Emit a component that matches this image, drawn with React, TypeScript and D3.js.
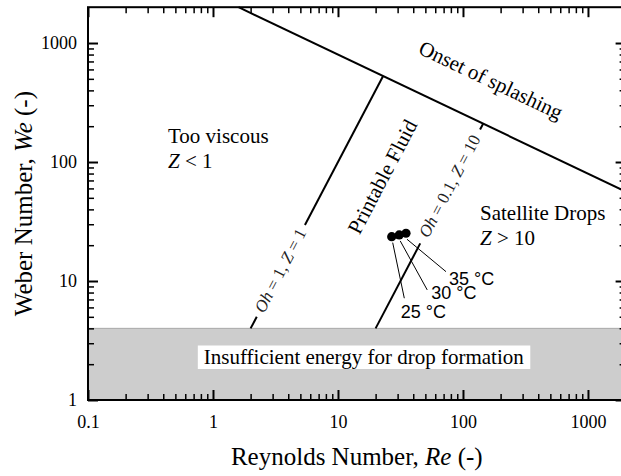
import { useEffect, useRef } from "react";
import * as d3 from "d3";

// axis ticks
const reTicks = [0.1, 1, 10, 100, 1000];
const weTicks = [1, 10, 100, 1000];
const decades = [0.1, 1, 10, 100, 1000];
const minorSteps = [2, 3, 4, 5, 6, 7, 8, 9];

// boundary lines, split where the labels sit
const splashRe = [1.6, 2000];
const splashWe = [2000, 56.5];
const oh1Re = [2, 2.24, 5.44, 22.97];
const oh1We = [4, 5.0, 29.6, 527.6];
const oh01Re = [20, 45.5, 137, 145];
const oh01We = [4, 20.7, 187.7, 210];
const bandWe = [1, 4];

// measured inks
const tempLabels = ["25 °C", "30 °C", "35 °C"];
const inkRe = [26.9, 30.9, 35.0];
const inkWe = [23.6, 24.4, 25.2];

const W = 621;
const H = 476;
const serif = "'Liberation Serif', 'Times New Roman', serif";
const sans = "'Liberation Sans', Arial, sans-serif";

type Part = [string, boolean];

const richText = (g: any, parts: Part[]) => {
  parts.forEach(([s, it]) => {
    g.append("tspan").attr("font-style", it ? "italic" : "normal").text(s);
  });
  return g;
};

const App = () => {
  const ref = useRef<SVGSVGElement>(null);

  useEffect(() => {
    const svg = d3.select(ref.current);
    svg.selectAll("*").remove();

    const x = d3.scaleLog().domain([0.1, 2000]).range([88, 625.6]);
    const y = d3.scaleLog().domain([1, 2000]).range([400, 7.2]);
    const [x0, x1] = x.range();
    const [y0, y1] = y.range();

    // grey band
    svg
      .append("rect")
      .attr("x", x0)
      .attr("width", x1 - x0)
      .attr("y", y(bandWe[1]))
      .attr("height", y(bandWe[0]) - y(bandWe[1]))
      .attr("fill", "#cdcdcd");
    svg
      .append("line")
      .attr("x1", x0)
      .attr("x2", x1)
      .attr("y1", y(bandWe[1]))
      .attr("y2", y(bandWe[1]))
      .attr("stroke", "#a8a8a8")
      .attr("stroke-width", 1);

    const bandText = svg
      .append("text")
      .attr("x", (x0 + x1) / 2 + 7)
      .attr("y", 364)
      .attr("text-anchor", "middle")
      .attr("font-family", serif)
      .attr("font-size", 21)
      .text("Insufficient energy for drop formation");
    const bb = (bandText.node() as SVGTextElement).getBBox();
    svg
      .insert("rect", "text")
      .attr("x", bb.x - 6)
      .attr("y", bb.y + 0.5)
      .attr("width", bb.width + 12)
      .attr("height", bb.height - 0.5)
      .attr("fill", "#fff");

    const line = d3
      .line<[number, number]>()
      .x((d) => x(d[0]))
      .y((d) => y(d[1]));

    const drawLine = (re: number[], we: number[]) =>
      svg
        .append("path")
        .datum(d3.zip(re, we) as [number, number][])
        .attr("fill", "none")
        .attr("stroke", "#000")
        .attr("stroke-width", 2)
        .attr("d", line);

    drawLine(splashRe, splashWe);
    drawLine(oh1Re.slice(0, 2), oh1We.slice(0, 2));
    drawLine(oh1Re.slice(2, 4), oh1We.slice(2, 4));
    drawLine(oh01Re.slice(0, 2), oh01We.slice(0, 2));
    drawLine(oh01Re.slice(2, 4), oh01We.slice(2, 4));

    const deg = (re: number[], we: number[], i: number, j: number) =>
      (Math.atan2(y(we[j]) - y(we[i]), x(re[j]) - x(re[i])) * 180) / Math.PI;

    const ohAngle = deg(oh1Re, oh1We, 0, 3);
    const splashAngle = deg(splashRe, splashWe, 0, 1);

    // labels along the Oh lines
    const ohLabel = (re: number[], we: number[], parts: Part[]) => {
      const cx = (x(re[1]) + x(re[2])) / 2;
      const cy = (y(we[1]) + y(we[2])) / 2;
      const t = svg
        .append("text")
        .attr("transform", `translate(${cx},${cy}) rotate(${ohAngle})`)
        .attr("y", 5)
        .attr("text-anchor", "middle")
        .attr("font-family", serif)
        .attr("font-size", 17)
        .attr("fill", "#222");
      richText(t, parts);
    };
    ohLabel(oh1Re, oh1We, [["Oh", true], [" = 1, ", false], ["Z", true], [" = 1", false]]);
    ohLabel(oh01Re, oh01We, [["Oh", true], [" = 0.1, ", false], ["Z", true], [" = 10", false]]);

    svg
      .append("text")
      .attr("transform", `translate(490,82) rotate(${splashAngle})`)
      .attr("y", 5)
      .attr("text-anchor", "middle")
      .attr("font-family", serif)
      .attr("font-size", 21)
      .text("Onset of splashing");

    svg
      .append("text")
      .attr("transform", `translate(382.5,176.7) rotate(${ohAngle})`)
      .attr("y", 7)
      .attr("text-anchor", "middle")
      .attr("font-family", serif)
      .attr("font-size", 21)
      .text("Printable Fluid");

    const region = (tx: number, ty: number, parts: Part[]) => {
      const t = svg
        .append("text")
        .attr("x", tx)
        .attr("y", ty)
        .attr("font-family", serif)
        .attr("font-size", 21);
      richText(t, parts);
    };
    region(168, 143, [["Too viscous", false]]);
    region(168, 168, [["Z", true], [" < 1", false]]);
    region(480, 220, [["Satellite Drops", false]]);
    region(480, 245, [["Z", true], [" > 10", false]]);

    // measured points with leaders
    const leaderEnd = [
      [12.6, 61.6],
      [28, 55],
      [40, 38.4],
    ];
    const labelAt = [
      [9, 81],
      [32, 64],
      [43, 52],
    ];
    inkRe.forEach((re, i) => {
      const px = x(re);
      const py = y(inkWe[i]);
      svg
        .append("line")
        .attr("x1", px + 1)
        .attr("y1", py + 6)
        .attr("x2", px + leaderEnd[i][0])
        .attr("y2", py + leaderEnd[i][1])
        .attr("stroke", "#000")
        .attr("stroke-width", 1);
      svg
        .append("text")
        .attr("x", px + labelAt[i][0])
        .attr("y", py + labelAt[i][1])
        .attr("font-family", sans)
        .attr("font-size", 18)
        .text(tempLabels[i]);
    });
    svg
      .append("g")
      .selectAll("circle")
      .data(inkRe)
      .join("circle")
      .attr("cx", (d) => x(d))
      .attr("cy", (d, i) => y(inkWe[i]))
      .attr("r", 4.6)
      .attr("fill", "#000");

    // axes
    const minorRe = decades.flatMap((d) => minorSteps.map((m) => d * m)).filter((v) => v < 2000);
    const minorWe = decades.slice(1).flatMap((d) => minorSteps.map((m) => d * m)).filter((v) => v < 2000);

    const styleAxis = (g: any, w: number) => {
      g.select(".domain").remove();
      g.selectAll("line").attr("stroke", "#000").attr("stroke-width", w);
      g.attr("font-family", serif).attr("font-size", 18);
      g.selectAll("text").attr("fill", "#000");
    };

    const gx = svg
      .append("g")
      .attr("transform", `translate(0,${y0})`)
      .call(d3.axisBottom(x).tickValues(reTicks).tickFormat((d: any) => String(d)).tickSize(-10).tickSizeOuter(0));
    styleAxis(gx, 2);
    gx.selectAll("text").attr("y", 28).attr("dy", null);

    const gxm = svg
      .append("g")
      .attr("transform", `translate(0,${y0})`)
      .call(d3.axisBottom(x).tickValues(minorRe).tickFormat(() => "").tickSize(-6).tickSizeOuter(0));
    styleAxis(gxm, 1.5);

    const gt = svg
      .append("g")
      .attr("transform", `translate(0,${y1})`)
      .call(d3.axisTop(x).tickValues(reTicks).tickFormat(() => "").tickSize(-10).tickSizeOuter(0));
    styleAxis(gt, 2);
    const gtm = svg
      .append("g")
      .attr("transform", `translate(0,${y1})`)
      .call(d3.axisTop(x).tickValues(minorRe).tickFormat(() => "").tickSize(-6).tickSizeOuter(0));
    styleAxis(gtm, 1.5);

    const gy = svg
      .append("g")
      .attr("transform", `translate(${x0},0)`)
      .call(d3.axisLeft(y).tickValues(weTicks).tickFormat((d: any) => String(d)).tickSize(-10).tickPadding(11).tickSizeOuter(0));
    styleAxis(gy, 2);
    const gym = svg
      .append("g")
      .attr("transform", `translate(${x0},0)`)
      .call(d3.axisLeft(y).tickValues(minorWe).tickFormat(() => "").tickSize(-6).tickSizeOuter(0));
    styleAxis(gym, 1.5);

    const gr = svg
      .append("g")
      .attr("transform", `translate(${x1},0)`)
      .call(d3.axisRight(y).tickValues(weTicks).tickFormat(() => "").tickSize(-10).tickSizeOuter(0));
    styleAxis(gr, 2);
    const grm = svg
      .append("g")
      .attr("transform", `translate(${x1},0)`)
      .call(d3.axisRight(y).tickValues(minorWe).tickFormat(() => "").tickSize(-6).tickSizeOuter(0));
    styleAxis(grm, 1.5);

    svg
      .append("rect")
      .attr("x", x0)
      .attr("y", y1)
      .attr("width", x1 - x0)
      .attr("height", y0 - y1)
      .attr("fill", "none")
      .attr("stroke", "#000")
      .attr("stroke-width", 2);

    // axis titles
    const xt = svg
      .append("text")
      .attr("x", (x0 + x1) / 2)
      .attr("y", 465)
      .attr("text-anchor", "middle")
      .attr("font-family", serif)
      .attr("font-size", 25);
    richText(xt, [["Reynolds Number, ", false], ["Re", true], [" (-)", false]]);

    const yt = svg
      .append("text")
      .attr("transform", `translate(32,${(y0 + y1) / 2}) rotate(-90)`)
      .attr("text-anchor", "middle")
      .attr("font-family", serif)
      .attr("font-size", 25);
    richText(yt, [["Weber Number, ", false], ["We", true], [" (-)", false]]);
  }, []);

  return (
    <svg
      ref={ref}
      width={W}
      height={H}
      style={{ position: "absolute", left: 0, top: 0, background: "#fff" }}
    />
  );
};

export default App;
